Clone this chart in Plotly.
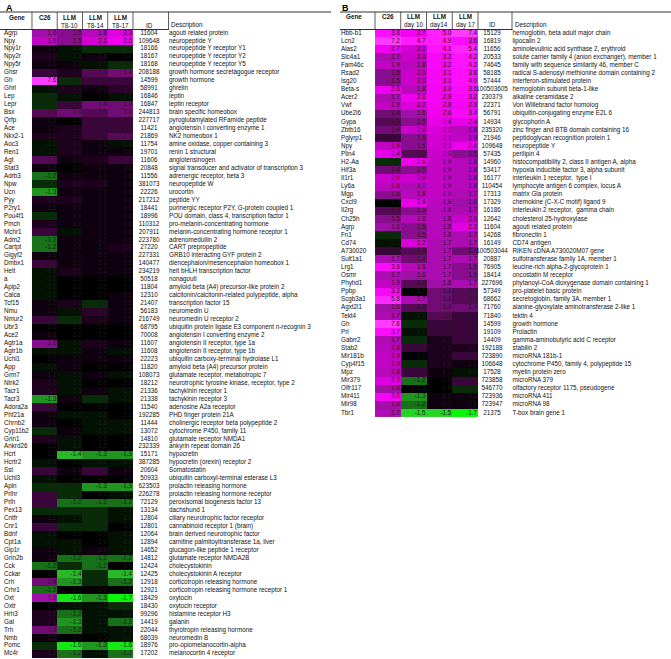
import numpy as np
import plotly.graph_objects as go

# ---------------- Panel A data ----------------
genes_a = ["Agrp", "Npy", "Npy1r", "Npy2r", "Npy5r", "Ghsr", "Gh", "Ghrl", "Lep", "Lepr",
           "Bsx", "Qrfp", "Ace", "Nkx2-1", "Aoc3", "Ren1", "Agt", "Stat3", "Adrb3", "Npw",
           "Ucn", "Pyy", "P2ry1", "Pou4f1", "Pmch", "Mchr1", "Adm2", "Cartpt", "Gigyf2", "Dmbx1",
           "Helt", "a", "Aplp2", "Calca", "Tcf15", "Nmu", "Nmur2", "Ubr3", "Ace2", "Agtr1a",
           "Agtr1b", "Uchl1", "App", "Grm7", "Ntrk2", "Tacr1", "Tacr3", "Adora2a", "Phf21a", "Chrnb2",
           "Cyp11b2", "Grin1", "Ankrd26", "Hcrt", "Hcrtr2", "Sst", "Uchl3", "Apln", "Prlhr", "Prlh",
           "Pex13", "Cntfr", "Cnr1", "Bdnf", "Cpt1a", "Glp1r", "Grin2b", "Cck", "Cckar", "Crh",
           "Crhr1", "Oxt", "Oxtr", "Hrh3", "Gal", "Trh", "Nmb", "Pomc", "Mc4r"]
ids_a = ["11604", "109648", "18166", "18167", "18168", "208188", "14599", "58991", "16846", "16847",
         "244813", "227717", "11421", "21869", "11754", "19701", "11606", "20848", "11556", "381073",
         "22226", "217212", "18441", "18996", "110312", "207911", "223780", "27220", "227331", "140477",
         "234219", "50518", "11804", "12310", "21407", "56183", "216749", "68795", "70008", "11607",
         "11608", "22223", "11820", "108073", "18212", "21336", "21338", "11540", "192285", "11444",
         "13072", "14810", "232339", "15171", "387285", "20604", "50933", "623503", "226278", "72129",
         "13134", "12804", "12801", "12064", "12894", "14652", "14812", "12424", "12425", "12918",
         "12921", "18429", "18430", "99296", "14419", "22044", "68039", "18976", "17202"]
desc_a = ["agouti related protein", "neuropeptide Y", "neuropeptide Y receptor Y1",
          "neuropeptide Y receptor Y2", "neuropeptide Y receptor Y5", "growth hormone secretagogue receptor",
          "growth hormone", "ghrelin", "leptin", "leptin receptor", "brain specific homeobox",
          "pyroglutamylated RFamide peptide", "angiotensin I converting enzyme 1", "NK2 homeobox 1",
          "amine oxidase, copper containing 3", "renin 1 structural", "angiotensinogen",
          "signal transducer and activator of transcription 3", "adrenergic receptor, beta 3",
          "neuropeptide W", "urocortin", "peptide YY", "purinergic receptor P2Y, G-protein coupled 1",
          "POU domain, class 4, transcription factor 1", "pro-melanin-concentrating hormone",
          "melanin-concentrating hormone receptor 1", "adrenomedullin 2", "CART prepropeptide",
          "GRB10 interacting GYF protein 2", "diencephalon/mesencephalon homeobox 1",
          "helt bHLH transcription factor", "nonagouti", "amyloid beta (A4) precursor-like protein 2",
          "calcitonin/calcitonin-related polypeptide, alpha", "transcription factor 15", "neuromedin U",
          "neuromedin U receptor 2", "ubiquitin protein ligase E3 component n-recognin 3",
          "angiotensin I converting enzyme 2", "angiotensin II receptor, type 1a",
          "angiotensin II receptor, type 1b", "ubiquitin carboxy-terminal hydrolase L1",
          "amyloid beta (A4) precursor protein", "glutamate receptor, metabotropic 7",
          "neurotrophic tyrosine kinase, receptor, type 2", "tachykinin receptor 1", "tachykinin receptor 3",
          "adenosine A2a receptor", "PHD finger protein 21A", "cholinergic receptor beta polypeptide 2",
          "cytochrome P450, family 11", "glutamate receptor NMDA1", "ankyrin repeat domain 26",
          "hypocretin", "hypocretin (orexin) receptor 2", "Somatostatin",
          "ubiquitin carboxyl-terminal esterase L3", "prolactin releasing hormone",
          "prolactin releasing hormone receptor", "peroxisomal biogenesis factor 13", "dachshund 1",
          "ciliary neurotrophic factor receptor", "cannabinoid receptor 1 (brain)",
          "brain derived neurotrophic factor", "carnitine palmitoyltransferase 1a, liver",
          "glucagon-like peptide 1 receptor", "glutamate receptor NMDA2B", "cholecystokinin",
          "cholecystokinin A receptor", "corticotropin releasing hormone",
          "corticotropin releasing hormone receptor 1", "oxytocin", "oxytocin receptor",
          "histamine receptor H3", "galanin", "thyrotropin releasing hormone", "neuromedin B",
          "pro-opiomelanocortin-alpha", "melanocortin 4 receptor"]
c26_a = [1.6, 1.9, 1.05, 1.1, 1.05, 1.2, 7.6, -1.05, -1.1, -1.1,
         1.3, 1.05, 1.05, 1.1, -1.05, -1.05, 1.3, 1.05, -1.2, -1.1,
         -1.3, 1.1, 1.05, -1.1, 1.1, 1.2, -1.2, -1.2, 1.05, 1.2,
         -1.05, -1.05, -1.05, -1.05, 1.05, 1.05, 1.2, 1.0, 1.05, 1.5,
         -1.05, 1.0, -1.05, 1.05, 1.1, 1.1, -1.3, 1.2, 1.05, 1.05,
         -1.1, 1.1, 1.0, 1.0, -1.05, 1.2, -1.05, -1.1, 1.2, 1.2,
         -1.1, 1.05, 1.2, -1.05, -1.05, 1.05, 1.05, -1.2, 1.0, 1.4,
         -1.2, 1.6, 1.0, 1.1, 1.1, 1.4, 1.05, -1.1, 1.1]
t810_a = [1.5, 1.5, -1.05, -1.05, 1.05, 1.1, -1.1, 1.1, -1.05, 1.2,
          1.4, 1.0, 1.1, 1.1, 1.1, 1.1, 1.05, 1.0, 1.05, 1.1,
          1.05, 1.1, 1.05, 1.05, 1.05, -1.05, 1.05, 1.05, 1.05, 1.05,
          1.1, 1.0, 1.0, 1.0, 1.1, -1.05, -1.1, 1.0, 1.0, -1.05,
          -1.05, 1.05, 1.05, -1.05, -1.05, -1.05, 1.05, 1.0, -1.05, 1.0,
          1.05, -1.05, -1.05, -1.4, 1.0, 1.05, 1.0, -1.1, -1.1, -1.2,
          -1.1, -1.05, -1.1, 1.0, -1.05, -1.05, -1.2, -1.1, -1.4, -1.3,
          1.0, -1.6, -1.05, -1.2, -1.3, -1.2, 1.0, -1.6, -1.2]
t814_a = [1.8, 2.1, -1.1, 1.05, -1.05, 1.3, 1.2, 1.05, 1.0, 1.4,
          1.3, 1.2, 1.2, 1.2, 1.05, 1.05, 1.1, 1.05, 1.05, 1.1,
          1.05, 1.05, 1.05, 1.05, 1.05, 1.05, 1.05, 1.05, 1.05, 1.05,
          1.05, 1.0, 1.0, 1.0, -1.1, 1.15, 1.1, 1.0, 1.0, 1.1,
          1.05, 1.05, 1.0, 1.05, 1.0, 1.05, -1.1, 1.0, -1.05, -1.05,
          -1.05, 1.0, 1.0, -1.3, -1.05, 1.2, 1.0, -1.3, 1.0, -1.2,
          -1.1, -1.1, -1.1, 1.0, 1.0, 1.05, -1.2, -1.2, -1.1, -1.1,
          1.0, -1.3, -1.05, -1.05, -1.05, -1.05, 1.0, -1.3, -1.05]
t817_a = [2.3, 2.6, -1.1, 1.0, -1.1, 1.4, 1.2, 1.15, -1.05, 1.4,
          1.4, 1.2, 1.2, 1.3, -1.05, 1.05, 1.2, 1.05, 1.05, 1.05,
          1.05, 1.05, 1.05, 1.05, 1.05, 1.05, 1.05, 1.1, 1.05, 1.05,
          1.05, 1.0, 1.0, 1.05, 1.05, 1.05, 1.05, 1.0, 1.0, 1.05,
          -1.05, 1.05, 1.0, -1.05, 1.0, -1.05, -1.05, 1.0, 1.0, -1.05,
          -1.05, 1.0, 1.0, -1.3, -1.05, 1.05, 1.0, -1.3, -1.05, -1.2,
          -1.05, -1.05, 1.0, -1.05, -1.05, -1.05, -1.2, 1.0, -1.4, -1.2,
          1.0, -1.7, -1.1, -1.05, -1.2, -1.05, -1.05, -1.6, -1.2]
head_a_top = ["C26", "LLM", "LLM", "LLM"]
head_a_bot = ["", "T8-10", "T8-14", "T8-17"]

# ---------------- Panel B data ----------------
genes_b = ["Hbb-b1", "Lcn2", "Alas2", "Slc4a1", "Fam46c", "Rsad2", "Isg20", "Beta-s", "Acer2", "Vwf",
           "Ube2l6", "Gypa", "Zbtb16", "Pglyrp1", "Npy", "Plin4", "H2-Aa", "Hif3a", "Il1r1", "Ly6a",
           "Mgp", "Cxcl9", "Il2rg", "Ch25h", "Agrp", "Fn1", "Cd74", "A730020", "Sult1a1", "Lrg1",
           "Osmr", "Phyhd1", "Ppbp", "Scgb3a1", "Agxt2l1", "Tekt4", "Gh", "Prl", "Gabrr2", "Stab2",
           "Mir181b", "Cyp4f15", "Mpz", "Mir379", "Olfr117", "Mir411", "Mir98", "Tbr1"]
ids_b = ["15129", "16819", "11656", "20533", "74645", "58185", "57444", "100503605", "230379", "22371",
         "56791", "14934", "235320", "21946", "109648", "57435", "14960", "53417", "16177", "110454",
         "17313", "17329", "16186", "12642", "11604", "14268", "16149", "100503044", "20887", "76905",
         "18414", "227696", "57349", "68662", "71760", "71840", "14599", "19109", "14409", "192188",
         "723890", "106648", "17528", "723858", "546770", "723936", "723947", "21375"]
desc_b = ["hemoglobin, beta adult major chain", "lipocalin 2", "aminolevulinic acid synthase 2, erythroid",
          "solute carrier family 4 (anion exchanger), member 1", "family with sequence similarity 46, member C",
          "radical S-adenosyl methionine domain containing 2", "interferon-stimulated protein",
          "hemoglobin subunit beta-1-like", "alkaline ceramidase 2", "Von Willebrand factor homolog",
          "ubiquitin-conjugating enzyme E2L 6", "glycophorin A", "zinc finger and BTB domain containing 16",
          "peptidoglycan recognition protein 1", "neuropeptide Y", "perilipin 4",
          "histocompatibility 2, class II antigen A, alpha", "hypoxia inducible factor 3, alpha subunit",
          "interleukin 1 receptor,  type I", "lymphocyte antigen 6 complex, locus A", "matrix Gla protein",
          "chemokine (C-X-C motif) ligand 9", "interleukin 2 receptor,  gamma chain", "cholesterol 25-hydroxylase",
          "agouti related protein", "fibronectin 1", "CD74 antigen", "RIKEN cDNA A730020M07 gene",
          "sulfotransferase family 1A, member 1", "leucine-rich alpha-2-glycoprotein 1", "oncostatin M receptor",
          "phytanoyl-CoA dioxygenase domain containing 1", "pro-platelet basic protein",
          "secretoglobin, family 3A, member 1", "alanine-glyoxylate aminotransferase 2-like 1", "tektin 4",
          "growth hormone", "Prolactin", "gamma-aminobutyric acid C receptor", "stabilin 2",
          "microRNA 181b-1", "cytochrome P450, family 4, polypeptide 15", "myelin protein zero",
          "microRNA 379", "olfactory receptor 1175, pseudogene", "microRNA 411", "microRNA 98",
          "T-box brain gene 1"]
c26_b = [3.8, 7.2, 2.7, 1.7, 1.9, 1.5, 1.5, 2.6, 1.7, 1.9,
         1.4, 1.3, 1.4, 1.2, 1.9, 2.4, -1.1, 1.4, 2.0, 1.8,
         1.5, 1.0, 1.3, 1.5, 1.6, -1.1, -1.05, 1.2, 1.7, 3.6,
         1.7, 1.9, 3.2, 5.8, 1.6, 1.7, 7.6, 3.7, 1.7, 1.8,
         1.9, 1.9, 1.8, 2.3, 1.6, 3.0, 1.6, 1.7]
d10_b = [2.7, 4.7, 2.1, 2.0, 1.8, 2.0, 2.0, 1.8, 2.6, 2.2,
         1.6, 1.5, 2.0, 1.5, 1.5, 1.3, 2.6, 1.5, 2.0, 1.7,
         1.8, 2.4, 1.5, 1.8, 1.5, 1.5, 2.2, 1.3, 1.4, 1.8,
         1.6, 1.3, 1.0, 1.7, 1.3, -1.05, -1.1, -1.05, -1.1, 1.2,
         1.0, -1.1, 1.2, -1.2, 1.0, -1.3, -1.2, -1.5]
d14_b = [5.0, 4.9, 4.1, 3.2, 3.2, 3.1, 3.1, 3.0, 2.9, 2.8,
         2.6, 2.4, 2.2, 2.1, 2.1, 2.0, 1.9, 1.9, 1.9, 1.9,
         1.9, 1.8, 1.8, 1.8, 1.8, 1.8, 1.7, 1.7, 1.7, 1.7,
         1.7, 1.6, 1.4, 1.4, 1.4, 1.3, 1.2, 1.2, 1.1, 1.1,
         1.1, 1.1, 1.05, 1.0, 1.0, 1.05, 1.05, -1.5]
d17_b = [7.4, 3.6, 5.4, 4.2, 4.2, 3.8, 4.0, 3.6, 3.2, 2.9,
         3.4, 2.4, 1.8, 1.9, 2.6, 1.5, 1.8, 1.8, 1.8, 1.8,
         1.7, 1.6, 1.7, 2.0, 2.3, 1.7, 1.7, 1.4, 1.7, 1.5,
         1.5, 1.7, 1.3, 1.3, 1.4, 1.2, 1.2, 1.2, 1.2, 1.1,
         1.2, 1.05, -1.05, 1.2, -1.1, 1.05, 1.05, -1.7]
head_b_top = ["C26", "LLM", "LLM", "LLM"]
head_b_bot = ["", "day 10", "day14", "day 17"]

# ---------------- styling ----------------
FONT = "Liberation Sans Narrow, Arial Narrow, Liberation Sans, Arial, sans-serif"
FS = 6.3
W, H = 671, 659

colorscale = [
    [0.000, "#00ff00"],
    [0.066, "#2ccc2c"],
    [0.142, "#187018"],
    [0.184, "#031803"],
    [0.2105, "#000000"],
    [0.247, "#1c001c"],
    [0.310, "#560a56"],
    [0.389, "#a010a8"],
    [0.474, "#cc00cc"],
    [0.558, "#ee00ee"],
    [0.737, "#ff10ff"],
    [1.000, "#ff40ff"],
]
ZMIN, ZMAX = -0.8, 3.0


def tz(v):
    v = np.asarray(v, dtype=float)
    return np.sign(v) * np.log2(np.abs(v))


fig = go.Figure()

panels = [
    dict(genes=genes_a, ids=ids_a, desc=desc_a, vals=[c26_a, t810_a, t814_a, t817_a],
         top=head_a_top, bot=head_a_bot, xa="x", ya="y", label="A",
         px0=0, px1=335, c0=44.6, cw=25.25, r0=33, rh=7.96,
         gene_px=4, gene_head_px=17, id_px=149, desc_px=169, line_l=0, line_r=331, label_px=4),
    dict(genes=genes_b, ids=ids_b, desc=desc_b, vals=[c26_b, d10_b, d14_b, d17_b],
         top=head_b_top, bot=head_b_bot, xa="x2", ya="y2", label="B",
         px0=335, px1=671, c0=387.9, cw=25.75, r0=33, rh=8.085,
         gene_px=341, gene_head_px=354, id_px=492, desc_px=512.5, line_l=340, line_r=671, label_px=340),
]

shapes = []
annotations = []
for i, p in enumerate(panels):
    n = len(p["genes"])
    rows = list(range(n))
    vals = np.array(p["vals"]).T  # n x 4
    ux = lambda px, p=p: (px - p["c0"]) / p["cw"]
    uy = lambda py, p=p: (py - p["r0"]) / p["rh"]

    fig.add_trace(go.Heatmap(
        z=tz(vals), x=[0, 1, 2, 3], y=rows, colorscale=colorscale, zmin=ZMIN, zmax=ZMAX,
        showscale=False, xaxis=p["xa"], yaxis=p["ya"], hoverinfo="skip"))

    # cell values (right aligned in cell)
    tx, ty, tt = [], [], []
    for r in range(n):
        for c in range(4):
            tx.append(c + 0.46)
            ty.append(r)
            tt.append(f"{vals[r, c]:.1f}")
    fig.add_trace(go.Scatter(x=tx, y=ty, text=tt, mode="text", textposition="middle left",
                             textfont=dict(family=FONT, size=FS, color="#1e1e1e"),
                             xaxis=p["xa"], yaxis=p["ya"], hoverinfo="skip", showlegend=False))
    # gene names
    fig.add_trace(go.Scatter(x=[ux(p["gene_px"])] * n, y=rows, text=p["genes"], mode="text",
                             textposition="middle right",
                             textfont=dict(family=FONT, size=FS, color="#111111"),
                             xaxis=p["xa"], yaxis=p["ya"], hoverinfo="skip", showlegend=False))
    # ids
    fig.add_trace(go.Scatter(x=[ux(p["id_px"])] * n, y=rows, text=p["ids"], mode="text",
                             textposition="middle center",
                             textfont=dict(family=FONT, size=FS, color="#111111"),
                             xaxis=p["xa"], yaxis=p["ya"], hoverinfo="skip", showlegend=False))
    # descriptions
    fig.add_trace(go.Scatter(x=[ux(p["desc_px"])] * n, y=rows, text=p["desc"], mode="text",
                             textposition="middle right",
                             textfont=dict(family=FONT, size=FS, color="#111111"),
                             xaxis=p["xa"], yaxis=p["ya"], hoverinfo="skip", showlegend=False))

    # headers
    hdr = [("Gene", ux(p["gene_head_px"]), -2, True, "center")]
    for c in range(4):
        hdr.append((p["top"][c], c, -2, True, "center"))
        if p["bot"][c]:
            hdr.append((p["bot"][c], c, -1, False, "center"))
    hdr.append(("ID", ux(p["id_px"]), -1, False, "center"))
    hdr.append(("Description", ux(p["desc_px"]), -1, False, "left"))
    for t, x, y, b, anc in hdr:
        annotations.append(dict(text=f"<b>{t}</b>" if b else t, x=x, y=y, xref=p["xa"], yref=p["ya"],
                                showarrow=False, xanchor=anc, yanchor="middle",
                                font=dict(family=FONT, size=FS, color="#111111")))
    # panel label
    annotations.append(dict(text=f"<b>{p['label']}</b>", x=p["label_px"] / W, y=1 - 8 / H,
                            xref="paper", yref="paper", showarrow=False, xanchor="left",
                            yanchor="middle", font=dict(family="Liberation Sans, Arial, sans-serif",
                                                        size=9, color="#000000")))
    # table rules
    ytop, ybot = uy(12), uy(29.5)
    shapes.append(dict(type="line", xref=p["xa"], yref=p["ya"], x0=ux(p["line_l"]), x1=ux(p["line_r"]),
                       y0=ytop, y1=ytop, line=dict(color="#333333", width=1)))
    shapes.append(dict(type="line", xref=p["xa"], yref=p["ya"], x0=ux(p["line_l"]), x1=ux(p["desc_px"]),
                       y0=ybot, y1=ybot, line=dict(color="#333333", width=1)))
    for vx in [-0.5, 0.5, 1.5, 2.5, 3.5, ux(p["desc_px"] - 0.5)]:
        shapes.append(dict(type="line", xref=p["xa"], yref=p["ya"], x0=vx, x1=vx,
                           y0=ytop, y1=ybot, line=dict(color="#333333", width=0.8)))

pa, pb = panels
fig.update_layout(
    width=W, height=H, margin=dict(l=0, r=0, t=0, b=0),
    paper_bgcolor="white", plot_bgcolor="white", showlegend=False,
    xaxis=dict(domain=[pa["px0"] / W, pa["px1"] / W], range=[(pa["px0"] - pa["c0"]) / pa["cw"], (pa["px1"] - pa["c0"]) / pa["cw"]],
               visible=False, fixedrange=True),
    yaxis=dict(domain=[0, 1], range=[(H - pa["r0"]) / pa["rh"], -pa["r0"] / pa["rh"]], visible=False, fixedrange=True),
    xaxis2=dict(domain=[pb["px0"] / W, pb["px1"] / W], range=[(pb["px0"] - pb["c0"]) / pb["cw"], (pb["px1"] - pb["c0"]) / pb["cw"]],
                visible=False, fixedrange=True),
    yaxis2=dict(domain=[0, 1], range=[(H - pb["r0"]) / pb["rh"], -pb["r0"] / pb["rh"]], visible=False, fixedrange=True,
                anchor="x2"),
    shapes=shapes, annotations=annotations,
)
fig.write_html("out.html", config={"displayModeBar": False},
               post_script="document.body.style.margin='0';document.body.style.overflow='hidden';")
